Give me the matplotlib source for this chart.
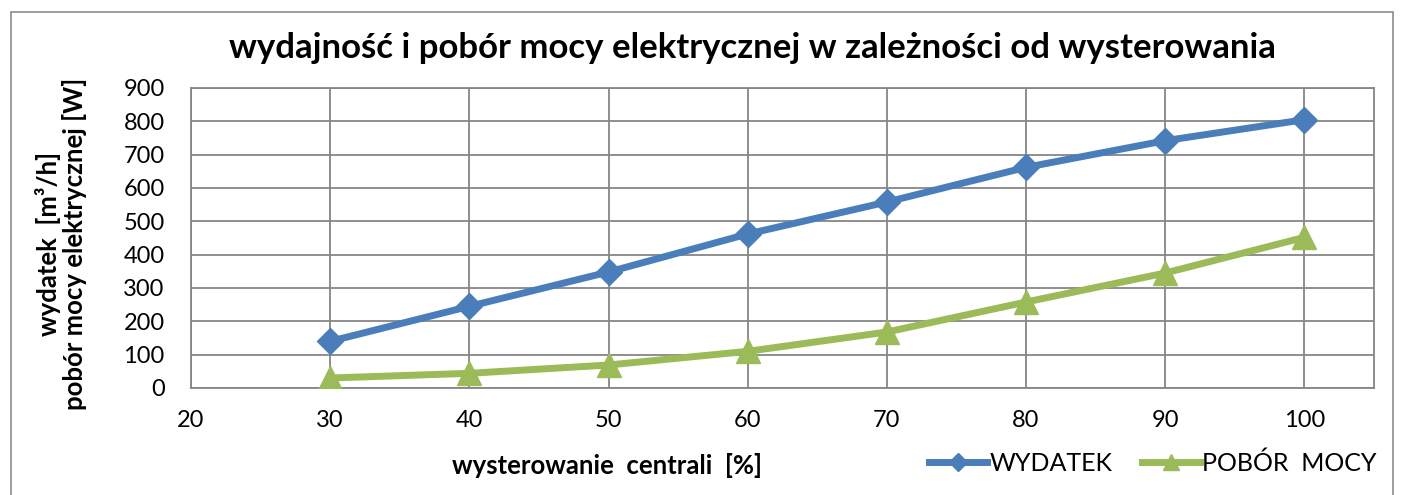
import matplotlib.pyplot as plt
from matplotlib.patches import Rectangle
from matplotlib.lines import Line2D

wysterowanie = [30, 40, 50, 60, 70, 80, 90, 100]
wydatek = [140, 245, 348, 462, 558, 662, 742, 805]
pobor_mocy = [30, 44, 69, 110, 168, 258, 345, 452]

blue = '#4A7EBB'
green = '#9BBB59'
grid_c = '#868686'

plt.rcParams['font.family'] = ['Lato', 'DejaVu Sans']

fig = plt.figure(figsize=(14.02, 4.95), dpi=100)
W, H = 1402, 495
ax = fig.add_axes([191 / W, 1 - 388 / H, (1374 - 191) / W, 300 / H])

ax.plot(wysterowanie, wydatek, color=blue, lw=5, marker='D', ms=13,
        label='WYDATEK', zorder=3)
ax.plot(wysterowanie, pobor_mocy, color=green, lw=5, marker='^', ms=17,
        label='POBÓR  MOCY', zorder=3)

ax.set_xlim(20, 105)
ax.set_ylim(0, 900)
ax.set_xticks(range(20, 101, 10))
ax.set_yticks(range(0, 901, 100))
ax.grid(True, color=grid_c, lw=1.3)
ax.set_axisbelow(True)
for s in ax.spines.values():
    s.set_color(grid_c)
    s.set_linewidth(1.3)
ax.tick_params(length=0, labelsize=17)
ax.tick_params(axis='y', pad=19)
ax.tick_params(axis='x', pad=16)

fig.text(752 / W, 1 - 48 / H, 'wydajność i pobór mocy elektrycznej w zależności od wysterowania',
         ha='center', va='center', fontsize=25, fontweight='bold')
fig.text(607 / W, 1 - 466 / H, 'wysterowanie  centrali  [%]',
         ha='center', va='center', fontsize=18.5, fontweight='bold')
fig.text(61 / W, 1 - 244 / H, 'wydatek  [m³/h]\npobór mocy elektrycznej [W]',
         ha='center', va='center', rotation=90, fontsize=18.5, fontweight='bold',
         linespacing=1.05)

handles = [Line2D([], [], color=blue, lw=5, marker='D', ms=9),
           Line2D([], [], color=green, lw=5, marker='^', ms=11)]
fig.legend(handles, ['WYDATEK', 'POBÓR  MOCY'], loc='center',
           bbox_to_anchor=(1153 / W, 1 - 463 / H), ncol=2, frameon=False,
           fontsize=18, handlelength=2.3, handletextpad=0.1, columnspacing=1.2)

fig.patches.append(Rectangle((11 / W, -0.01), (1393 - 11) / W, 1 - 12 / H + 0.01,
                             transform=fig.transFigure, fill=False,
                             edgecolor='#8C8C8C', lw=1.2))

fig.savefig('out.png', dpi=100)
plt.close()
